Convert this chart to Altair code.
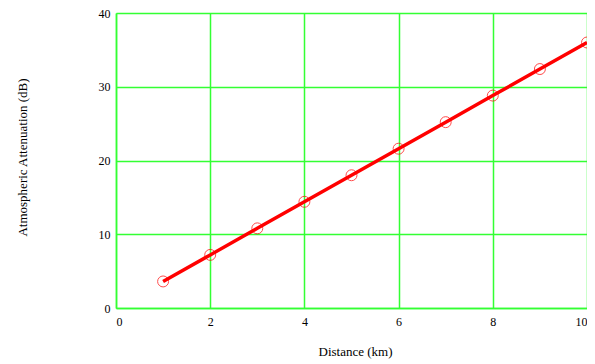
import altair as alt
import pandas as pd

distance_km = [1, 2, 3, 4, 5, 6, 7, 8, 9, 10]
attenuation_db = [3.6, 7.2, 10.8, 14.4, 18.0, 21.6, 25.2, 28.8, 32.4, 36.0]

df = pd.DataFrame({"d": distance_km, "a": attenuation_db})

GREEN = "#33ff33"
FONT = "Liberation Serif, Times New Roman, serif"

x = alt.X("d:Q", title="Distance (km)",
          scale=alt.Scale(domain=[0, 10], nice=False),
          axis=alt.Axis(values=[0, 2, 4, 6, 8, 10], format="d",
                        titleY=43, titleBaseline="middle", titleX=239))
y = alt.Y("a:Q", title="Atmospheric Attenuation (dB)",
          scale=alt.Scale(domain=[0, 40], nice=False),
          axis=alt.Axis(values=[0, 10, 20, 30, 40], format="d",
                        titleX=-94, titleY=144, titleBaseline="middle", titleAngle=-90))

line = alt.Chart(df).mark_line(color="#ff0000", strokeWidth=3.5).encode(x=x, y=y)
pts = alt.Chart(df).mark_point(color="#ff0000", size=120, strokeWidth=1, filled=False).encode(x=x, y=y)

chart = (line + pts).properties(
    width=471, height=295,
    autosize=alt.AutoSizeParams(type="none"),
    padding={"left": 108, "top": 5, "right": 0, "bottom": 56},
).configure_view(stroke=None).configure_axis(
    grid=True, gridColor=GREEN, gridWidth=1.5, gridOpacity=1,
    domainColor=GREEN, domainWidth=1.5,
    ticks=False, labelPadding=6,
    labelFont=FONT, labelFontSize=12, labelColor="#000000",
    titleFont=FONT, titleFontSize=13, titleFontWeight="normal", titleColor="#000000",
).configure_axisX(labelPadding=8)

chart.save("out.html", embed_options={"renderer": "svg", "actions": False})
